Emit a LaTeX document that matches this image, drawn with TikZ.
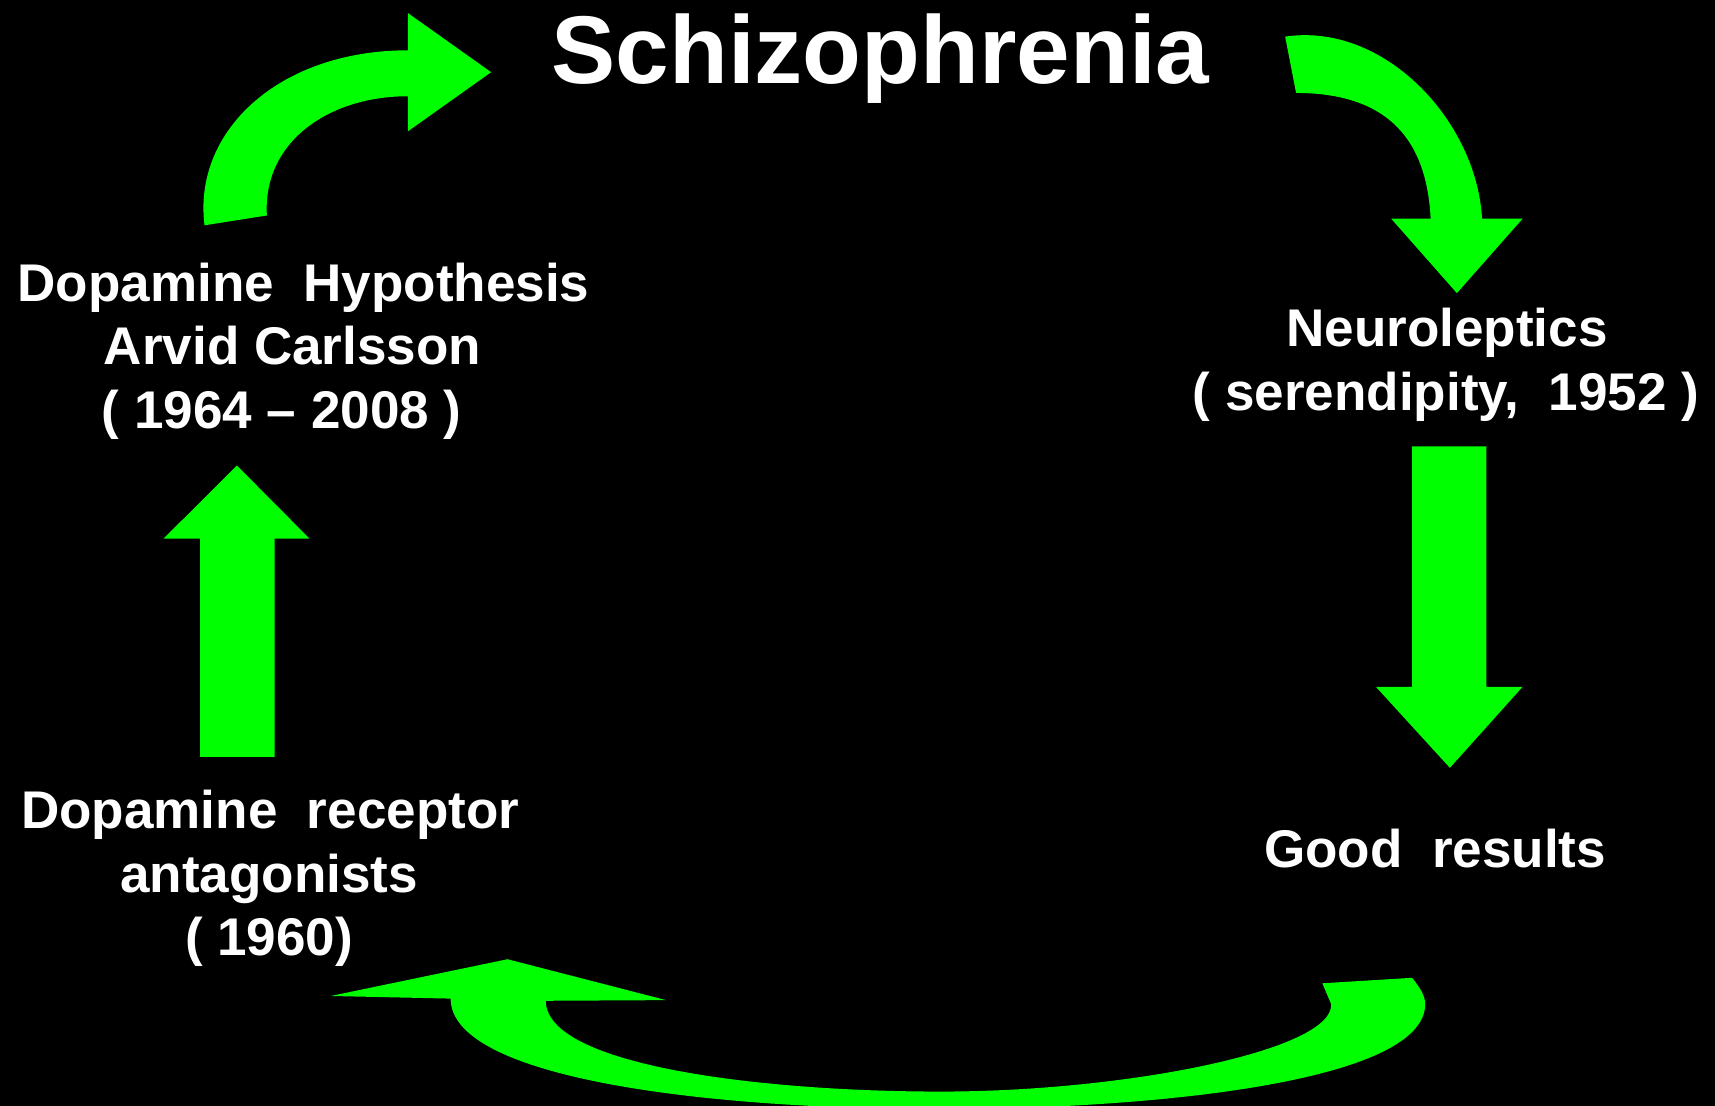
\documentclass[tikz,border=0pt]{standalone}
\usepackage{fontspec}
\setmainfont{Liberation Sans}
\definecolor{arrowgreen}{HTML}{00FF00}
\tikzset{
  blockarrow/.style={fill=arrowgreen, draw=none},
  label/.style={text=white, font=\fontsize{48.5}{58}\selectfont\bfseries, inner sep=0pt, anchor=base},
  titletext/.style={text=white, font=\fontsize{88}{100}\selectfont\bfseries, inner sep=0pt, anchor=base}
}
\begin{document}
\begin{tikzpicture}[x=1pt,y=-1pt]
\fill[black] (0,0) rectangle (1568,1011);
\useasboundingbox (0,0) rectangle (1568,1011);
\clip (0,0) rectangle (1568,1011);

% title
\node[titletext] (title) at (805,76.2) {Schizophrenia};

% left block
\node[label] (hyp1) at (277.5,275.8) {Dopamine\ \ Hypothesis};
\node[label] (hyp2) at (267.5,333) {Arvid Carlsson};
\node[label] (hyp3) at (257.5,391.5) {( 1964 – 2008 )};

% right block
\node[label] (neu1) at (1323,317) {Neuroleptics};
\node[label] (neu2) at (1322,375) {( serendipity,\ \ 1952 )};

\node[label] (good) at (1312,793) {Good\ \ results};

\node[label] (rec1) at (247,757.6) {Dopamine\ \ receptor};
\node[label] (rec2) at (246,816) {antagonists};
\node[label] (rec3) at (246,874) {( 1960)};

% top-left curved arrow
\fill[blockarrow] (244,197) -- (187,206)
  .. controls (176,120) and (255,46) .. (373,46)
  -- (373,12) -- (449,66) -- (373,120) -- (373,88)
  .. controls (300,88) and (240,130) .. (244,197) -- cycle;

% top-right curved arrow
\fill[blockarrow] (1185,85) -- (1175,33.5)
  .. controls (1265,20) and (1350,110) .. (1355,200)
  -- (1392,200) -- (1332,268) -- (1272,200) -- (1308,200)
  .. controls (1305,140) and (1280,85) .. (1185,85) -- cycle;

% left up arrow
\fill[blockarrow] (183,692) -- (183,492.5) -- (149.5,492.5) -- (216.6,425.6)
  -- (283,492.5) -- (251,492.5) -- (251,692) -- cycle;

% right down arrow
\fill[blockarrow] (1291,408) -- (1359,408) -- (1359,628) -- (1392,628)
  -- (1325.6,702) -- (1258,628) -- (1291,628) -- cycle;

% bottom curved arrow
\fill[blockarrow] (1209,899) -- (1291,894)
  .. controls (1300,905) and (1303,912) .. (1303,918)
  .. controls (1303,990) and (1050,1014) .. (860,1014)
  .. controls (640,1014) and (412,985) .. (412,913)
  -- (302.5,910.6) -- (464,877) -- (609,914.4) -- (499,915)
  .. controls (499,975) and (700,998) .. (860,998)
  .. controls (1030,998) and (1220,960) .. (1217,918)
  -- cycle;
\end{tikzpicture}
\end{document}
